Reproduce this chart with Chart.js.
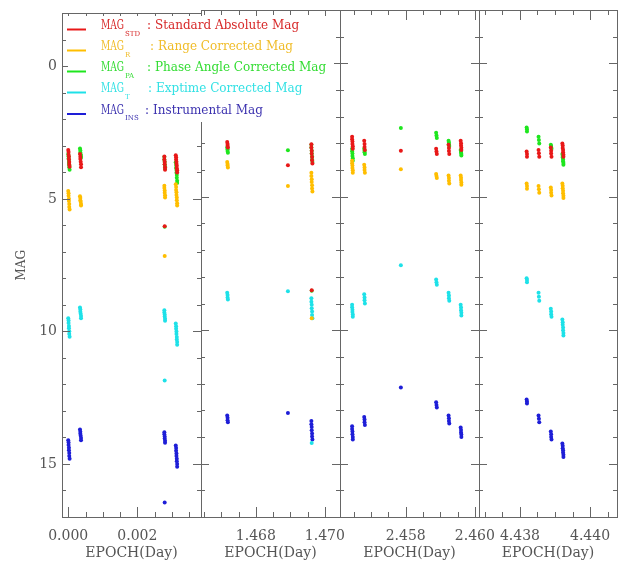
<!DOCTYPE html>
<html>
<head>
<meta charset="utf-8">
<script src="https://cdn.jsdelivr.net/npm/chart.js@4.4.0/dist/chart.umd.min.js"></script>
<style>
  html, body { margin: 0; padding: 0; background: #fff; overflow: hidden; }
  #wrap { position: relative; width: 622px; height: 563px; overflow: hidden; background: #fff; }
  #wrap canvas { position: absolute; top: 0; }
</style>
</head>
<body>
<div id="wrap">
  <canvas id="p1" width="360" height="563" style="left:0px;z-index:5"></canvas>
  <canvas id="p2" width="219" height="563" style="left:161px;z-index:2"></canvas>
  <canvas id="p3" width="219" height="563" style="left:300px;z-index:2"></canvas>
  <canvas id="p4" width="218" height="563" style="left:439px;z-index:2"></canvas>
</div>
<script>
// series names and legend texts
var seriesKeys = ['STD', 'R', 'PA', 'T', 'INS'];
var seriesText = ['Standard Absolute Mag', 'Range Corrected Mag', 'Phase Angle Corrected Mag',
                  'Exptime Corrected Mag', 'Instrumental Mag'];

// panel 1 (epoch in days)
var epoch1 = [0.00000, 0.00001, 0.00001, 0.00002, 0.00002, 0.00003, 0.00003, 0.00004,
              0.00034, 0.00035, 0.00035, 0.00036, 0.00037, 0.00037,
              0.00278, 0.00278, 0.00279, 0.00279, 0.00280, 0.00280, 0.00279,
              0.00311, 0.00312, 0.00312, 0.00313, 0.00313, 0.00314, 0.00314, 0.00315, 0.00315];
var std1 = [3.15, 3.23, 3.33, 3.41, 3.50, 3.61, 3.70, 3.79,
            3.30, 3.41, 3.49, 3.60, 3.69, 3.80,
            3.40, 3.51, 3.60, 3.69, 3.80, 3.90, 6.03,
            3.35, 3.43, 3.51, 3.60, 3.67, 3.75, 3.84, 3.92, 4.00];
var pa1 = [3.30, 3.39, 3.47, 3.57, 3.64, 3.73, 3.81, 3.90,
           3.10, 3.17, 3.25, 3.31, 3.38, 3.45,
           3.42, 3.52, 3.61, 3.70, 3.78, 3.86, 6.05,
           3.62, 3.72, 3.82, 3.91, 4.01, 4.10, 4.20, 4.31, 4.40];
var r1 = [4.70, 4.79, 4.88, 4.99, 5.08, 5.19, 5.30, 5.40,
          4.90, 4.96, 5.05, 5.11, 5.19, 5.25,
          4.50, 4.59, 4.68, 4.77, 4.86, 4.95, 7.15,
          4.45, 4.55, 4.66, 4.75, 4.85, 4.95, 5.05, 5.16, 5.25];
var t1 = [9.50, 9.59, 9.68, 9.79, 9.88, 9.99, 10.10, 10.20,
          9.10, 9.17, 9.26, 9.33, 9.42, 9.50,
          9.20, 9.28, 9.36, 9.44, 9.52, 9.60, 11.85,
          9.70, 9.80, 9.90, 10.00, 10.10, 10.21, 10.30, 10.40, 10.50];
var ins1 = [14.10, 14.19, 14.28, 14.39, 14.48, 14.59, 14.70, 14.80,
            13.70, 13.78, 13.86, 13.93, 14.02, 14.10,
            13.80, 13.88, 13.96, 14.04, 14.12, 14.20, 16.45,
            14.30, 14.40, 14.50, 14.60, 14.70, 14.80, 14.90, 15.00, 15.10];

// panel 2
var epoch2 = [1.46717, 1.46718, 1.46718, 1.46719,
              1.46893,
              1.46961, 1.46961, 1.46962, 1.46962, 1.46963, 1.46963, 1.46964, 1.46962];
var std2 = [2.95, 3.02, 3.09, 3.15, 3.82, 3.03, 3.15, 3.27, 3.39, 3.51, 3.63, 3.75, 8.50];
var pa2 = [3.15, 3.22, 3.28, 3.35, 3.26, 3.05, 3.16, 3.27, 3.38, 3.49, 3.60, 3.70, 8.52];
var r2 = [3.70, 3.77, 3.83, 3.90, 4.60, 4.10, 4.22, 4.34, 4.45, 4.57, 4.69, 4.80, 9.55];
var t2 = [8.60, 8.68, 8.77, 8.85, 8.54, 8.80, 8.93, 9.05, 9.18, 9.30, 9.43, 9.55, 14.23];
var ins2 = [13.20, 13.28, 13.37, 13.45, 13.10, 13.40, 13.52, 13.63, 13.75, 13.87, 13.98, 14.10, null];

// panel 3
var epoch3 = [2.45645, 2.45645, 2.45646, 2.45646, 2.45647, 2.45647,
              2.45680, 2.45681, 2.45681, 2.45682,
              2.45786,
              2.45888, 2.45889, 2.45890,
              2.45924, 2.45925, 2.45925, 2.45926,
              2.45959, 2.45960, 2.45960, 2.45961, 2.45961];
var std3 = [2.75, 2.84, 2.93, 3.02, 3.11, 3.20, 2.90, 3.02, 3.13, 3.25, 3.27,
            3.20, 3.30, 3.40, 3.05, 3.17, 3.28, 3.40, 2.90, 2.99, 3.08, 3.16, 3.25];
var pa3 = [3.20, 3.29, 3.38, 3.47, 3.56, 3.65, 3.20, 3.27, 3.33, 3.40, 2.42,
           2.60, 2.70, 2.80, 2.90, 2.97, 3.03, 3.10, 3.25, 3.30, 3.35, 3.40, 3.45];
var r3 = [3.65, 3.74, 3.83, 3.92, 4.01, 4.10, 3.80, 3.90, 4.00, 4.10, 3.97,
          4.15, 4.22, 4.30, 4.20, 4.30, 4.40, 4.50, 4.20, 4.29, 4.37, 4.46, 4.55];
var t3 = [9.05, 9.14, 9.23, 9.32, 9.41, 9.50, 8.65, 8.77, 8.88, 9.00, 7.57,
          8.10, 8.20, 8.30, 8.60, 8.70, 8.80, 8.90, 9.05, 9.15, 9.25, 9.35, 9.45];
var ins3 = [13.60, 13.70, 13.80, 13.90, 14.00, 14.10, 13.25, 13.35, 13.45, 13.55, 12.15,
            12.70, 12.80, 12.90, 13.20, 13.30, 13.40, 13.50, 13.65, 13.74, 13.83, 13.91, 14.00];

// panel 4
var epoch4 = [4.43819, 4.43820, 4.43820,
              4.43853, 4.43854, 4.43855,
              4.43888, 4.43889, 4.43889, 4.43890,
              4.43921, 4.43922, 4.43922, 4.43923, 4.43923, 4.43924, 4.43924];
var std4 = [3.30, 3.40, 3.50, 3.25, 3.37, 3.50, 3.15, 3.27, 3.38, 3.50,
            3.00, 3.08, 3.17, 3.25, 3.33, 3.42, 3.50];
var pa4 = [2.40, 2.47, 2.55, 2.75, 2.87, 3.00, 3.05, 3.10, 3.15, 3.20,
           3.40, 3.47, 3.53, 3.60, 3.67, 3.73, 3.80];
var r4 = [4.50, 4.60, 4.70, 4.60, 4.72, 4.85, 4.65, 4.75, 4.85, 4.95,
          4.50, 4.59, 4.68, 4.77, 4.87, 4.96, 5.05];
var t4 = [8.05, 8.12, 8.20, 8.60, 8.75, 8.90, 9.20, 9.30, 9.40, 9.50,
          9.60, 9.70, 9.80, 9.90, 10.00, 10.10, 10.20];
var ins4 = [12.60, 12.67, 12.75, 13.20, 13.32, 13.45, 13.80, 13.90, 14.00, 14.10,
            14.25, 14.33, 14.42, 14.50, 14.58, 14.67, 14.75];

// axis ranges (kept off whole multiples of the tick step so ticks land on round values)
var xRanges = [[-0.00018, 0.00384], [1.46641, 1.47044], [2.45610, 2.46012], [4.43683, 4.44077]];
var yRange = [-2, 17];
var yTickLabels = [0, 5, 10, 15];

// colours
var pointColors = ['rgb(232,24,24)', 'rgb(255,190,0)', 'rgb(30,230,30)', 'rgb(30,225,232)', 'rgb(30,30,215)'];
var textColors = ['rgb(215,40,40)', 'rgb(240,188,40)', 'rgb(50,220,50)', 'rgb(50,225,228)', 'rgb(60,50,175)'];
var axisColor = '#666';
var labelColor = '#555';

function toPoints(xs, ys) {
    var pts = [];
    for (var i = 0; i < xs.length; i++) {
        if (ys[i] !== null) pts.push({x: xs[i], y: ys[i]});
    }
    return pts;
}

function isMajor(v) {
    var k = v / 0.002;
    return Math.abs(k - Math.round(k)) < 1e-6;
}

// draws frame, inward ticks, and (panel 1) the legend
var framePlugin = {
    id: 'frame',
    afterDraw: function(chart) {
        var ctx = chart.ctx;
        var a = chart.chartArea;
        var xs = chart.scales.x, ys = chart.scales.y;
        var top = Math.round(a.top), bottom = Math.round(a.bottom);
        var left = Math.round(a.left), right = Math.round(a.right);
        ctx.save();
        ctx.strokeStyle = axisColor;
        ctx.lineWidth = 1;
        ctx.beginPath();
        xs.ticks.forEach(function(t) {
            var len = isMajor(t.value) ? 10 : 5;
            var px = Math.round(xs.getPixelForValue(t.value)) + 0.5;
            ctx.moveTo(px, bottom); ctx.lineTo(px, bottom - len);
            ctx.moveTo(px, top); ctx.lineTo(px, top + len);
        });
        for (var m = yRange[0]; m <= yRange[1]; m++) {
            var len = (m % 5 === 0) ? 8 : 4;
            var py = Math.round(ys.getPixelForValue(m)) + 0.5;
            ctx.moveTo(left, py); ctx.lineTo(left + len, py);
            ctx.moveTo(right, py); ctx.lineTo(right - len, py);
        }
        ctx.stroke();
        ctx.strokeRect(left + 0.5, top + 0.5, right - left, bottom - top);

        if (chart.options.plugins.frame && chart.options.plugins.frame.legend) {
            drawLegend(ctx);
        }
        ctx.restore();
    }
};

function drawLegend(ctx) {
    var rowY = [29.5, 50.5, 71.5, 92.5, 114];
    var colonX = [147, 150, 147, 148, 145];
    ctx.fillStyle = '#fff';
    ctx.fillRect(68, 16, 266, 106);
    ctx.textBaseline = 'middle';
    ctx.textAlign = 'left';
    for (var i = 0; i < seriesKeys.length; i++) {
        var y = rowY[i];
        ctx.strokeStyle = pointColors[i];
        ctx.lineWidth = 2;
        ctx.beginPath();
        ctx.moveTo(67, y); ctx.lineTo(86, y);
        ctx.stroke();
        ctx.fillStyle = textColors[i];
        ctx.font = '12px "DejaVu Serif"';
        ctx.fillText('MAG', 101, y - 3.5, 23);
        ctx.font = '7px "DejaVu Serif"';
        ctx.fillText(seriesKeys[i], 125, y + 4.5, 15);
        ctx.font = '12px "DejaVu Serif"';
        ctx.fillText(':', colonX[i], y - 3.5);
        ctx.fillText(seriesText[i], colonX[i] + 8, y - 3.5);
    }
}

function makePanel(id, xRange, series, first) {
    var datasets = series.map(function(pts, i) {
        return {
            label: 'MAG_' + seriesKeys[i],
            data: pts,
            backgroundColor: pointColors[i],
            borderWidth: 0,
            pointRadius: 2,
            pointHoverRadius: 2
        };
    });
    var yScale = {
        type: 'linear',
        display: first,
        reverse: true,
        min: yRange[0],
        max: yRange[1],
        grid: { display: false, drawTicks: false },
        border: { display: false },
        ticks: {
            stepSize: 5,
            includeBounds: false,
            padding: 5,
            color: labelColor,
            font: { family: 'DejaVu Serif', size: 14 },
            callback: function(v) { return yTickLabels.indexOf(v) >= 0 ? String(v) : ''; }
        },
        title: {
            display: true,
            text: 'MAG',
            color: labelColor,
            font: { family: 'DejaVu Serif', size: 12 },
            padding: { top: 15, bottom: 0 }
        }
    };
    if (first) {
        yScale.afterFit = function(s) { s.width = 62; };
    }
    return new Chart(document.getElementById(id), {
        type: 'scatter',
        data: { datasets: datasets },
        options: {
            responsive: false,
            animation: false,
            events: [],
            layout: { padding: first ? { left: 0, right: 159, top: 10, bottom: 0 }
                                     : { left: 40, right: 40, top: 10, bottom: 0 } },
            plugins: { legend: { display: false }, tooltip: { enabled: false },
                       frame: { legend: first } },
            scales: {
                x: {
                    type: 'linear',
                    position: 'bottom',
                    min: xRange[0],
                    max: xRange[1],
                    grid: { display: false, drawTicks: false },
                    border: { display: false },
                    ticks: {
                        stepSize: 0.0005,
                        autoSkip: false,
                        includeBounds: false,
                        maxRotation: 0,
                        padding: 11,
                        color: labelColor,
                        font: { family: 'DejaVu Serif', size: 14 },
                        callback: function(v) { return isMajor(v) ? v.toFixed(3) : ''; }
                    },
                    title: {
                        display: true,
                        text: 'EPOCH(Day)',
                        color: labelColor,
                        font: { family: 'DejaVu Serif', size: 14 },
                        padding: { top: 0, bottom: 1 }
                    },
                    afterFit: function(s) { s.height = 46; }
                },
                y: yScale
            }
        },
        plugins: [framePlugin]
    });
}

makePanel('p1', xRanges[0], [toPoints(epoch1, std1), toPoints(epoch1, r1), toPoints(epoch1, pa1),
                             toPoints(epoch1, t1), toPoints(epoch1, ins1)], true);
makePanel('p2', xRanges[1], [toPoints(epoch2, std2), toPoints(epoch2, r2), toPoints(epoch2, pa2),
                             toPoints(epoch2, t2), toPoints(epoch2, ins2)], false);
makePanel('p3', xRanges[2], [toPoints(epoch3, std3), toPoints(epoch3, r3), toPoints(epoch3, pa3),
                             toPoints(epoch3, t3), toPoints(epoch3, ins3)], false);
makePanel('p4', xRanges[3], [toPoints(epoch4, std4), toPoints(epoch4, r4), toPoints(epoch4, pa4),
                             toPoints(epoch4, t4), toPoints(epoch4, ins4)], false);
</script>
</body>
</html>
